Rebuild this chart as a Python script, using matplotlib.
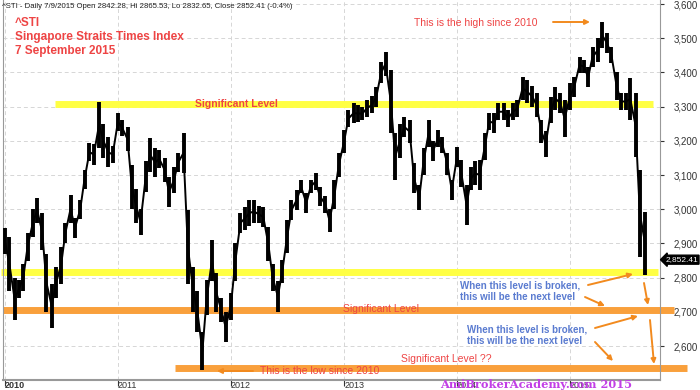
import numpy as np
import pandas as pd
import matplotlib
matplotlib.use('Agg')
import matplotlib.pyplot as plt
import matplotlib.dates as mdates
import matplotlib.transforms as mtransforms

plt.rcParams['font.family'] = ['Liberation Sans', 'DejaVu Sans']

# half-monthly bars (high / low of each half month)
dates = pd.date_range('2010-01-01', '2015-09-01', freq='SMS')
highs = [2945, 2920, 2800, 2793, 2840, 2930, 3000, 3033, 2990, 2870, 2780, 2830,
         2890, 2960, 3042, 2975, 3027, 3115, 3194, 3190, 3313, 3250, 3210, 3185,
         3281, 3260, 3240, 3130, 3060, 3000, 3140, 3208, 3180, 3173, 3150, 3094,
         3123, 3164, 3223, 2998, 2831, 2760, 2640, 2793, 2910, 2813, 2740, 2700,
         2755, 2900, 2990, 3006, 3027, 3027, 3010, 3006, 2948, 2840, 2790, 2851,
         2968, 3027, 3056, 3085, 3047, 3085, 3106, 3065, 3040, 3000, 3085, 3164,
         3232, 3290, 3310, 3305, 3299, 3319, 3330, 3357, 3430, 3460, 3407, 3223,
         3250, 3270, 3260, 3135, 3070, 3180, 3260, 3200, 3232, 3211, 3164, 3085,
         3182, 3144, 3070, 3123, 3140, 3144, 3223, 3281, 3281, 3310, 3310, 3290,
         3310, 3319, 3387, 3378, 3360, 3340, 3260, 3230, 3328, 3357, 3340, 3319,
         3369, 3387, 3445, 3436, 3416, 3474, 3500, 3547, 3515, 3474, 3400, 3340,
         3340, 3384, 3340, 3114, 2992]
lows = [2870, 2760, 2676, 2740, 2760, 2850, 2920, 2960, 2880, 2700, 2653, 2740,
        2780, 2900, 2960, 2916, 2970, 3060, 3140, 3130, 3180, 3150, 3123, 3135,
        3230, 3215, 3170, 3000, 2960, 2925, 3050, 3110, 3094, 3120, 3080, 3006,
        3047, 3110, 3106, 2780, 2700, 2640, 2530, 2690, 2790, 2700, 2670, 2612,
        2676, 2790, 2930, 2940, 2950, 2960, 2960, 2948, 2850, 2760, 2700, 2784,
        2872, 2968, 2998, 3047, 2989, 3047, 3056, 3010, 2990, 2933, 3000, 3094,
        3164, 3240, 3252, 3255, 3260, 3270, 3280, 3299, 3370, 3390, 3223, 3085,
        3150, 3211, 3194, 3047, 2998, 3100, 3182, 3140, 3182, 3164, 3100, 3027,
        3123, 3065, 2954, 3056, 3070, 3056, 3144, 3232, 3223, 3260, 3260, 3240,
        3260, 3270, 3320, 3310, 3300, 3270, 3194, 3153, 3252, 3290, 3280, 3211,
        3290, 3328, 3398, 3398, 3357, 3416, 3430, 3470, 3457, 3427, 3320, 3290,
        3290, 3260, 3153, 2860, 2808]
last_close = 2852.41

yticks = list(range(2600, 3700, 100))
years = [2010, 2011, 2012, 2013, 2014, 2015]
levels = [3307, 2815, 2705, 2535]
level_colors = ['#FFFF44', '#FFFF44', '#F9A03C', '#F9A03C']
level_px = [(55, 653), (1, 658), (3, 674), (175, 687)]   # horizontal extent in pixels

W, H = 700, 390
red = '#EE4444'
orange = '#F28A1E'
blue = '#5A7BD0'

t0 = mdates.date2num(pd.Timestamp('2010-01-01'))
def px_to_x(px):
    return t0 + (px - 5) / 113.0 * 365.25

def fp(x, y):
    return (x, H - y)

fig = plt.figure(figsize=(W / 100, H / 100), dpi=100)
ax = fig.add_axes([3 / W, 10 / H, 657 / W, 380 / H])

x = mdates.date2num(dates)
hi = np.array(highs, float)
lo = np.array(lows, float)

for lvl, c, (p0, p1) in zip(levels, level_colors, level_px):
    ax.plot([px_to_x(p0), px_to_x(p1)], [lvl, lvl], color=c, lw=5,
            solid_capstyle='butt', clip_on=False, zorder=1)

ax.vlines(x, lo, hi, color='black', lw=2.8, zorder=3)
ax.plot(x, (hi + lo) / 2, color='black', lw=1.4, zorder=3)

ax.set_xlim(px_to_x(3), px_to_x(660))
ax.set_ylim(2500.6, 3611.7)

ax.yaxis.tick_right()
ax.set_yticks(yticks)
ax.set_yticklabels([f'{v:,}' for v in yticks])
ax.tick_params(axis='y', labelsize=7, colors='#333333', length=3, pad=7)

xt = [mdates.date2num(pd.Timestamp(f'{y}-01-01')) for y in years]
ax.set_xticks(xt)
ax.set_xticklabels([str(y) for y in years], ha='left')
ax.tick_params(axis='x', labelsize=6.5, colors='#333333', length=4, pad=-3)
ax.get_xticklabels()[0].set_fontweight('bold')

ax.grid(True, color='#d6d6d6', ls=(0, (4, 3)), lw=0.7)
ax.set_axisbelow(True)
ax.spines['top'].set_visible(False)
for s in ['left', 'right', 'bottom']:
    ax.spines[s].set_color('#999999')
ax.spines['bottom'].set_linewidth(1.5)

# header
fig.text(2 / W, 1 - 6 / H,
         '^STI - Daily 7/9/2015 Open 2842.28, Hi 2865.53, Lo 2832.65, Close 2852.41 (-0.4%)',
         fontsize=5.6, color='#222222', va='center', ha='left')
fig.text(15 / W, 1 - 37 / H, '^STI\nSingapore Straits Times Index\n7 September 2015',
         fontsize=8.5, color=red, fontweight='bold', va='center', ha='left',
         linespacing=1.25)

# labels
fig.text(414 / W, 1 - 23 / H, 'This is the high since 2010', fontsize=7.5, color=red,
         va='center', ha='left')
fig.text(195 / W, 1 - 104 / H, 'Significant Level', fontsize=7.5, color=red,
         fontweight='bold', va='center', ha='left')
fig.text(343 / W, 1 - 309 / H, 'Significant Level', fontsize=7.5, color=red,
         va='center', ha='left')
fig.text(401 / W, 1 - 359 / H, 'Significant Level ??', fontsize=7.5, color=red,
         va='center', ha='left')
fig.text(260 / W, 1 - 371 / H, 'This is the low since 2010', fontsize=7.5, color=red,
         va='center', ha='left')
fig.text(460 / W, 1 - 291 / H, 'When this level is broken,\nthis will be the next level',
         fontsize=7, color=blue, fontweight='bold', va='center', ha='left',
         linespacing=1.25)
fig.text(467 / W, 1 - 335 / H, 'When this level is broken,\nthis will be the next level',
         fontsize=7, color=blue, fontweight='bold', va='center', ha='left',
         linespacing=1.25)

arrows = [((553, 22), (590, 22)), ((253, 371), (217, 371)),
          ((588, 285), (633, 274)), ((585, 297), (605, 306)),
          ((644, 283), (648, 305)), ((595, 328), (638, 316)),
          ((595, 342), (613, 361)), ((650, 320), (654, 364))]
for (x1, y1), (x2, y2) in arrows:
    ax.annotate('', xy=fp(x2, y2), xytext=fp(x1, y1), xycoords='figure pixels',
                textcoords='figure pixels', annotation_clip=False,
                arrowprops=dict(arrowstyle='-|>', color=orange, lw=1.4,
                                mutation_scale=7, shrinkA=0, shrinkB=0))

# last price tag
trans = mtransforms.blended_transform_factory(ax.transAxes, ax.transData)
ax.text(1.008, last_close, '2,852.41', transform=trans, fontsize=6, color='white',
        va='center', ha='left', clip_on=False,
        bbox=dict(boxstyle='larrow,pad=0.12', fc='black', ec='black'))

# watermark
fig.text(440 / W, 1 - 384 / H, 'AmiBrokerAcademy.com 2015', fontsize=8.2,
         color='#C23FE6', fontweight='bold', family='DejaVu Serif',
         va='center', ha='left')

fig.savefig('out.png', dpi=100)
